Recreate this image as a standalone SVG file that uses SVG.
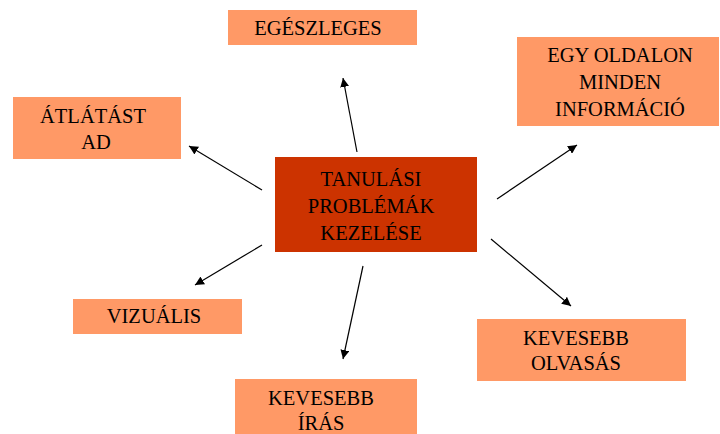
<svg xmlns="http://www.w3.org/2000/svg" width="720" height="434" viewBox="0 0 720 434">
<style>
.box{fill:#FF9966}
.center{fill:#CC3300}
text{font-family:"Liberation Serif","Times New Roman",serif;font-size:20.5px;fill:#000;text-anchor:middle}
.conn line{stroke:#000;stroke-width:1.2;marker-end:url(#arr)}
</style>
<defs>
<marker id="arr" viewBox="0 0 10 10" refX="10" refY="5" markerWidth="9" markerHeight="9" markerUnits="userSpaceOnUse" orient="auto">
<path d="M0,0 L10,5 L0,10 z" fill="#000"/>
</marker>
</defs>
<rect width="720" height="434" fill="#fff"/>
<g id="center">
<rect class="center" x="275" y="157" width="202" height="95"/>
<text x="371" y="186">TANULÁSI</text>
<text x="371" y="213">PROBLÉMÁK</text>
<text x="371" y="240">KEZELÉSE</text>
</g>
<g id="egeszleges">
<rect class="box" x="228" y="10" width="189" height="35"/>
<text x="318" y="35">EGÉSZLEGES</text>
</g>
<g id="egy-oldalon">
<rect class="box" x="517" y="37" width="202" height="89"/>
<text x="620" y="62">EGY OLDALON</text>
<text x="620" y="89">MINDEN</text>
<text x="620" y="116">INFORMÁCIÓ</text>
</g>
<g id="atlatast">
<rect class="box" x="13" y="97" width="168" height="62"/>
<text x="93" y="123">ÁTLÁTÁST</text>
<text x="96" y="149">AD</text>
</g>
<g id="vizualis">
<rect class="box" x="73" y="299" width="169" height="35"/>
<text x="154" y="323">VIZUÁLIS</text>
</g>
<g id="kevesebb-iras">
<rect class="box" x="235" y="379" width="182" height="55"/>
<text x="321" y="405">KEVESEBB</text>
<text x="321" y="430">ÍRÁS</text>
</g>
<g id="kevesebb-olvasas">
<rect class="box" x="477" y="319" width="209" height="62"/>
<text x="576" y="345">KEVESEBB</text>
<text x="576" y="370">OLVASÁS</text>
</g>
<g class="conn" id="connectors">
<line x1="357" y1="152" x2="343" y2="78"/>
<line x1="497" y1="199" x2="577" y2="145"/>
<line x1="262" y1="190" x2="189" y2="146"/>
<line x1="262" y1="245" x2="195" y2="285"/>
<line x1="363" y1="266" x2="343" y2="359"/>
<line x1="491" y1="239" x2="571" y2="306"/>
</g>
</svg>
